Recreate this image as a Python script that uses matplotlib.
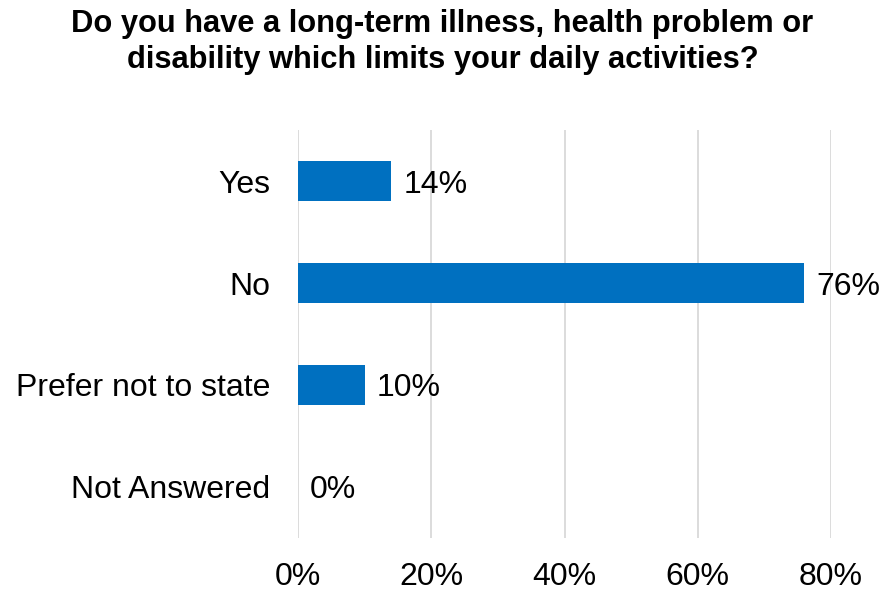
import matplotlib
matplotlib.use("Agg")
import matplotlib.pyplot as plt
from matplotlib.ticker import FuncFormatter

categories = ["Yes", "No", "Prefer not to state", "Not Answered"]
values = [14, 76, 10, 0]
xticks = [0, 20, 40, 60, 80]
title = "Do you have a long-term illness, health problem or\ndisability which limits your daily activities?"

plt.rcParams['font.family'] = ['Liberation Sans', 'DejaVu Sans']

fig = plt.figure(figsize=(8.85, 5.91), dpi=100)
ax = fig.add_axes([298/885, 1-538/591, (831-298)/885, 408/591])

ypos = list(range(len(categories)))
ax.barh(ypos, values, height=0.39, color="#0070C0", zorder=3)
for y, v in zip(ypos, values):
    ax.text(v + 1.8, y, f"{v}%", va="center_baseline", ha="left", fontsize=23, color="#000000")

ax.set_xlim(0, 80)
ax.set_ylim(3.5, -0.5)
ax.set_yticks(ypos)
ax.set_yticklabels(categories, fontsize=23)
ax.set_xticks(xticks)
ax.xaxis.set_major_formatter(FuncFormatter(lambda x, p: f"{x:.0f}%"))
ax.tick_params(axis='x', labelsize=23, length=0, pad=17)
ax.tick_params(axis='y', length=0, pad=20)
ax.grid(axis='x', color="#D9D9D9", linewidth=1.3, zorder=0)
for s in ax.spines.values():
    s.set_visible(False)

fig.text(0.5, 1-42/591, title, ha="center", va="center", fontsize=22.2, fontweight="bold", linespacing=1.3)

fig.savefig("out.png", dpi=100)
